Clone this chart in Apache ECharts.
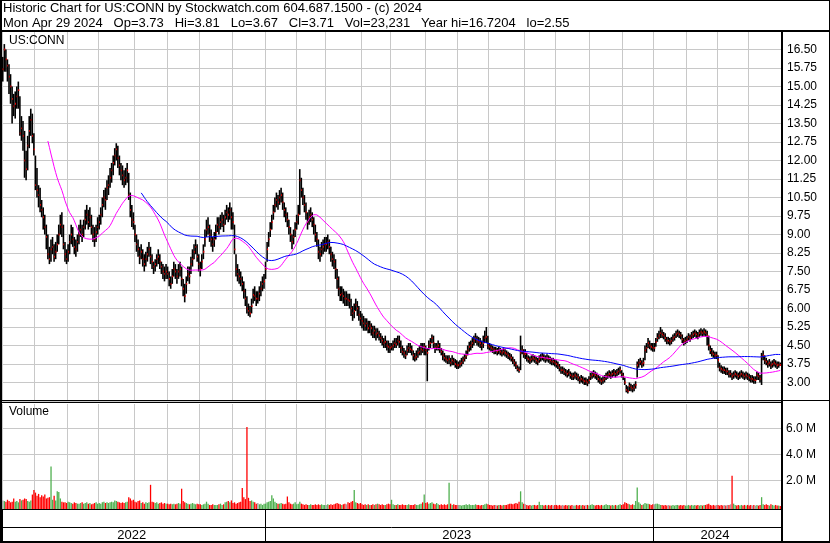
<!DOCTYPE html>
<html><head><meta charset="utf-8">
<script src="https://cdn.jsdelivr.net/npm/echarts@6/dist/echarts.min.js"></script>
<style>html,body{margin:0;padding:0;background:#fff}#c{width:830px;height:543px}</style>
</head><body><div id="c"></div>
<script>
// ---------- DATA ----------
const months = ['2022-05','2022-06','2022-07','2022-08','2022-09','2022-10','2022-11','2022-12',
  '2023-01','2023-02','2023-03','2023-04','2023-05','2023-06','2023-07','2023-08','2023-09','2023-10','2023-11','2023-12',
  '2024-01','2024-02','2024-03','2024-04'];
const monthDays = [21,21,20,23,21,21,21,21, 20,19,23,19,22,21,20,23,20,22,21,20, 21,20,20,21];
const volTicks = [2,4,6];

const cl = [
15.7,16.5,16.1,15.85,15.4,15.0,14.5,14.2,14.3,14.6,14.85,13.1,13.3,13.0,12.0,11.65,12.6,13.2,13.65,13.0,12.45,
11.0,10.8,10.6,10.2,10.0,9.7,9.3,8.9,8.2,8.0,8.4,8.5,8.1,8.3,8.6,9.0,9.4,9.3,8.6,8.2,8.0,
8.3,8.7,9.0,8.8,8.5,8.4,8.7,9.0,9.2,9.0,9.3,9.6,9.8,9.5,9.7,9.3,9.0,8.8,9.1,9.3,
9.5,9.8,10.2,10.5,10.4,10.9,11.0,11.3,11.6,11.9,12.2,12.45,12.1,11.8,11.6,11.4,11.2,11.3,11.6,10.6,10.0,9.6,9.5,
9.0,8.6,8.4,8.1,8.3,8.0,7.8,8.0,8.2,8.4,8.1,7.9,7.7,7.8,8.0,8.1,7.9,7.7,7.5,7.4,7.5,
7.4,7.2,7.0,7.3,7.6,7.5,7.3,7.5,7.6,7.2,6.8,6.5,7.0,7.4,7.3,7.8,8.0,8.3,8.5,8.1,7.8,
7.6,7.9,8.3,8.8,9.2,9.3,9.0,8.8,8.6,8.8,9.1,9.4,9.3,9.5,9.6,9.4,9.7,9.9,9.8,10.0,9.7,
9.5,8.4,7.6,7.4,7.3,7.2,7.0,6.7,6.4,6.0,5.9,5.8,6.1,6.55,6.5,6.4,6.4,6.6,6.8,7.0,7.1,
7.6,8.4,8.8,9.2,9.5,9.9,10.2,10.4,10.3,10.5,10.6,10.3,10.0,9.8,9.6,9.3,9.0,8.7,8.9,9.2,
9.5,9.8,11.2,10.8,10.5,10.2,9.9,9.5,9.7,9.8,9.6,9.4,9.0,8.8,8.3,8.2,8.4,8.5,8.6,
8.6,8.7,8.5,8.2,8.0,7.9,7.6,7.2,6.8,6.55,6.6,6.5,6.4,6.4,6.35,6.3,6.0,5.8,5.9,6.15,6.0,5.75,5.6,
5.5,5.4,5.3,5.4,5.2,5.3,5.2,5.0,5.1,4.95,5.0,4.9,4.8,4.7,4.6,4.65,4.5,4.45,4.4,
4.45,4.5,4.6,4.55,4.7,4.65,4.4,4.25,4.2,4.1,4.3,4.4,4.35,4.3,4.1,4.0,4.05,4.2,4.25,4.35,4.3,4.45,
4.3,4.2,4.5,4.6,4.8,4.6,4.4,4.45,4.5,4.35,4.25,4.1,4.0,3.95,3.9,3.95,3.8,3.9,3.85,3.75,3.7,
3.7,3.75,3.8,3.9,4.0,4.1,4.3,4.45,4.5,4.6,4.7,4.8,4.7,4.65,4.6,4.5,4.6,4.8,4.85,4.5,
4.45,4.4,4.35,4.3,4.3,4.25,4.3,4.25,4.2,4.25,4.2,4.15,4.1,4.05,4.0,3.9,3.8,3.7,3.55,3.5,4.2,4.3,4.15,
4.15,4.0,3.95,3.9,3.95,4.0,3.95,3.9,3.85,3.95,4.0,4.05,4.0,3.95,4.0,3.95,3.9,3.85,3.85,3.8,
3.75,3.7,3.6,3.5,3.5,3.45,3.4,3.35,3.4,3.3,3.25,3.25,3.3,3.25,3.2,3.1,3.15,3.1,3.05,3.05,3.0,3.1,
3.25,3.3,3.35,3.3,3.25,3.15,3.1,3.05,3.1,3.15,3.25,3.3,3.35,3.3,3.35,3.4,3.35,3.4,3.45,3.5,3.35,
3.25,3.0,2.7,2.65,2.85,2.8,2.75,2.8,2.9,3.7,3.8,3.85,3.75,3.8,4.3,4.4,4.6,4.5,4.45,4.4,
4.4,4.65,4.8,4.9,5.0,4.95,4.9,4.8,4.7,4.7,4.65,4.7,4.8,4.85,4.95,5.0,4.95,4.9,4.75,4.65,4.7,
4.75,4.85,4.8,4.9,4.95,5.0,4.95,4.9,5.0,5.05,5.0,5.05,5.0,4.9,4.5,4.3,4.2,4.15,4.1,4.1,
3.9,3.6,3.55,3.5,3.5,3.45,3.45,3.35,3.35,3.25,3.3,3.35,3.3,3.25,3.3,3.35,3.3,3.25,3.3,3.25,
3.2,3.15,3.15,3.1,3.1,3.3,3.25,3.15,4.05,4.1,3.9,3.85,3.75,3.8,3.7,3.75,3.8,3.75,3.7,3.72,3.71
];
const hi = [
16.2,16.72,16.5,16.1,15.9,15.5,15.0,14.7,14.8,15.0,15.2,14.6,13.8,13.6,13.2,12.4,13.0,13.8,14.1,13.9,13.1,
12.2,11.7,11.0,10.9,10.4,10.1,9.8,9.4,9.0,8.5,8.8,8.9,8.6,8.7,9.0,9.4,9.8,9.9,9.4,8.7,8.4,
8.6,9.0,9.4,9.3,8.9,8.8,9.0,9.4,9.6,9.4,9.6,10.0,10.2,10.0,10.1,9.8,9.4,9.3,9.4,9.7,
9.8,10.1,10.5,10.8,10.9,11.2,11.4,11.7,11.9,12.2,12.5,12.7,12.6,12.2,11.9,11.8,11.6,11.7,11.9,11.5,10.7,10.2,9.9,
9.4,9.0,8.8,8.5,8.6,8.4,8.2,8.3,8.5,8.7,8.5,8.2,7.9,8.0,8.2,8.4,8.2,7.9,7.8,7.7,7.8,
7.7,7.5,7.3,7.6,7.9,7.8,7.6,7.8,7.9,7.7,7.2,7.0,7.3,7.7,7.7,8.1,8.4,8.6,8.8,8.6,8.2,
7.9,8.2,8.6,9.2,9.6,9.7,9.4,9.2,8.9,9.1,9.4,9.7,9.7,9.8,9.9,9.8,10.0,10.2,10.1,10.3,10.1,
9.9,9.4,8.2,7.8,7.6,7.5,7.3,7.1,6.8,6.5,6.2,6.1,6.4,6.8,6.9,6.7,6.7,6.9,7.1,7.3,7.4,
7.9,8.7,9.1,9.5,9.8,10.2,10.5,10.7,10.6,10.8,10.9,10.7,10.3,10.1,9.9,9.6,9.3,9.0,9.2,9.5,
9.8,10.2,11.65,11.3,10.9,10.6,10.3,9.9,10.0,10.1,9.9,9.7,9.4,9.1,8.8,8.5,8.7,8.8,8.9,
8.9,9.0,8.8,8.5,8.3,8.2,8.0,7.6,7.3,6.9,6.9,6.8,6.7,6.7,6.6,6.6,6.4,6.1,6.2,6.4,6.3,6.1,5.9,
5.8,5.7,5.6,5.6,5.5,5.5,5.4,5.3,5.3,5.2,5.2,5.1,5.0,4.9,4.8,4.9,4.7,4.7,4.6,
4.6,4.7,4.8,4.8,4.9,4.9,4.7,4.5,4.4,4.3,4.5,4.6,4.6,4.5,4.3,4.2,4.3,4.4,4.5,4.6,4.6,4.6,
4.5,4.4,4.7,4.8,4.95,4.9,4.6,4.6,4.7,4.6,4.4,4.3,4.2,4.1,4.1,4.1,4.0,4.1,4.0,3.95,3.9,
3.85,3.9,4.0,4.05,4.15,4.3,4.5,4.65,4.7,4.8,4.9,5.0,4.9,4.85,4.8,4.7,4.9,5.1,5.25,4.9,
4.6,4.55,4.5,4.45,4.45,4.4,4.45,4.4,4.35,4.4,4.35,4.3,4.25,4.2,4.15,4.05,3.95,3.85,3.7,3.65,4.9,4.5,4.35,
4.35,4.2,4.1,4.05,4.1,4.15,4.1,4.05,4.0,4.1,4.15,4.2,4.15,4.1,4.15,4.1,4.05,4.0,4.0,3.95,
3.9,3.85,3.75,3.65,3.65,3.6,3.55,3.5,3.55,3.45,3.4,3.4,3.45,3.4,3.35,3.25,3.3,3.25,3.2,3.2,3.15,3.25,
3.4,3.45,3.5,3.45,3.4,3.3,3.25,3.2,3.25,3.3,3.4,3.45,3.5,3.45,3.5,3.55,3.5,3.55,3.6,3.65,3.5,
3.4,3.2,2.9,2.85,3.0,2.95,2.9,2.95,3.05,3.85,3.95,4.0,3.9,4.0,4.5,4.6,4.8,4.7,4.6,4.6,
4.6,4.8,5.0,5.1,5.25,5.15,5.05,5.0,4.85,4.85,4.8,4.85,4.95,5.0,5.1,5.15,5.1,5.05,4.95,4.8,4.85,
4.9,5.0,4.95,5.05,5.1,5.15,5.1,5.05,5.15,5.2,5.15,5.2,5.15,5.1,4.9,4.5,4.4,4.3,4.25,4.25,
4.1,3.8,3.7,3.65,3.65,3.6,3.6,3.5,3.5,3.4,3.45,3.5,3.45,3.4,3.45,3.5,3.45,3.4,3.45,3.4,
3.35,3.3,3.3,3.25,3.25,3.45,3.4,3.3,4.2,4.3,4.1,4.0,3.9,3.95,3.85,3.9,3.95,3.9,3.85,3.85,3.81
];
const lo = [
15.2,15.6,15.6,15.2,14.7,14.3,13.5,13.8,13.7,14.1,14.1,13.0,12.8,12.4,11.3,11.2,11.6,12.5,13.0,12.7,12.2,
10.8,10.5,10.1,9.9,9.7,9.2,9.0,8.4,8.0,7.8,7.9,8.2,7.9,8.0,8.3,8.6,9.0,8.9,8.4,7.9,7.8,
7.9,8.2,8.6,8.5,8.2,8.1,8.3,8.6,8.9,8.7,8.9,9.2,9.4,9.2,9.3,9.0,8.7,8.5,8.7,9.0,
9.2,9.4,9.7,10.1,10.0,10.4,10.6,10.9,11.1,11.4,11.8,12.0,11.7,11.4,11.2,11.0,10.9,11.0,11.1,10.4,9.7,9.3,9.2,
8.7,8.3,8.1,7.8,8.0,7.7,7.5,7.7,7.9,8.1,7.8,7.6,7.4,7.5,7.7,7.8,7.6,7.4,7.2,7.1,7.2,
7.2,6.9,6.8,7.0,7.3,7.2,7.0,7.2,7.3,6.9,6.5,6.25,6.6,7.1,7.0,7.4,7.7,8.0,8.2,7.9,7.5,
7.3,7.6,8.0,8.5,8.9,9.0,8.7,8.5,8.3,8.5,8.8,9.1,9.0,9.2,9.3,9.1,9.4,9.6,9.5,9.6,9.2,
9.2,8.2,7.3,7.1,7.0,6.9,6.7,6.4,6.1,5.8,5.7,5.65,5.8,6.2,6.3,6.1,6.2,6.3,6.5,6.7,6.8,
7.2,7.9,8.5,8.9,9.2,9.6,9.9,10.1,10.0,10.2,10.3,10.0,9.7,9.5,9.3,9.0,8.7,8.4,8.6,8.9,
9.2,9.4,9.8,10.5,10.2,9.9,9.6,9.2,9.4,9.5,9.3,9.0,8.7,8.5,8.0,7.9,8.1,8.2,8.3,
8.3,8.4,8.2,7.9,7.7,7.6,7.2,6.8,6.5,6.3,6.3,6.2,6.1,6.1,6.1,6.0,5.7,5.5,5.6,5.9,5.7,5.5,5.3,
5.2,5.1,5.1,5.1,5.0,5.0,4.9,4.8,4.8,4.7,4.8,4.7,4.6,4.5,4.4,4.4,4.3,4.2,4.2,
4.3,4.3,4.4,4.4,4.5,4.4,4.2,4.1,4.0,3.95,4.1,4.2,4.2,4.1,3.9,3.85,3.9,4.0,4.1,4.1,4.2,4.1,
4.1,3.05,4.3,4.4,4.6,4.4,4.2,4.3,4.3,4.2,4.1,3.9,3.85,3.8,3.75,3.75,3.65,3.7,3.7,3.6,3.55,
3.55,3.6,3.65,3.75,3.85,3.95,4.1,4.25,4.3,4.4,4.5,4.6,4.5,4.45,4.4,4.3,4.4,4.6,4.6,4.35,
4.3,4.25,4.2,4.15,4.15,4.1,4.15,4.1,4.05,4.1,4.05,4.0,3.95,3.9,3.85,3.75,3.65,3.55,3.45,3.4,3.5,4.15,4.0,
3.95,3.85,3.8,3.75,3.8,3.85,3.8,3.75,3.7,3.8,3.85,3.9,3.85,3.8,3.85,3.8,3.75,3.7,3.7,3.65,
3.6,3.55,3.45,3.35,3.35,3.3,3.25,3.2,3.25,3.15,3.1,3.1,3.15,3.1,3.05,2.95,3.0,2.95,2.9,2.9,2.85,2.95,
3.1,3.15,3.2,3.15,3.1,3.0,2.95,2.9,2.95,3.0,3.1,3.15,3.2,3.15,3.2,3.25,3.2,3.25,3.3,3.35,3.2,
3.1,2.9,2.6,2.55,2.65,2.65,2.6,2.65,2.75,3.2,3.6,3.7,3.6,3.65,3.9,4.2,4.4,4.35,4.3,4.25,
4.25,4.45,4.65,4.75,4.8,4.8,4.75,4.65,4.55,4.55,4.5,4.55,4.65,4.7,4.8,4.85,4.8,4.75,4.6,4.5,4.55,
4.6,4.7,4.65,4.75,4.8,4.85,4.8,4.75,4.85,4.9,4.85,4.9,4.85,4.5,4.3,4.15,4.05,4.0,3.95,3.95,
3.6,3.45,3.4,3.35,3.35,3.3,3.3,3.2,3.2,3.1,3.15,3.2,3.15,3.1,3.15,3.2,3.15,3.1,3.15,3.1,
3.05,3.0,3.0,2.95,2.95,3.1,3.1,3.0,2.9,3.9,3.75,3.7,3.6,3.65,3.55,3.6,3.65,3.6,3.55,3.6,3.67
];
// volume in millions of shares
const vol = [
0.45,0.4,0.35,0.5,0.4,0.3,0.35,0.6,0.35,0.4,0.3,0.55,0.45,0.5,0.6,0.55,0.4,0.35,0.45,0.9,1.25,
1.05,0.8,0.95,0.7,0.85,0.75,0.9,0.6,0.65,0.7,3.05,0.5,0.8,0.45,1.15,1.1,0.6,0.35,0.3,0.3,0.25,
0.35,0.3,0.25,0.2,0.3,0.25,0.2,0.2,0.25,0.3,0.2,0.25,0.3,0.2,0.25,0.15,0.2,0.25,0.3,0.2,
0.25,0.2,0.3,0.35,0.25,0.3,0.25,0.3,0.35,0.3,0.45,0.4,0.35,0.3,0.25,0.3,0.25,0.3,0.35,0.7,0.6,0.45,0.5,
0.35,0.3,0.4,0.45,0.25,0.3,0.2,0.3,0.25,0.3,1.65,0.35,0.3,0.25,0.3,0.2,0.25,0.3,0.2,0.25,0.2,
0.2,0.15,0.2,0.15,0.2,0.15,0.2,0.25,0.2,1.35,0.4,0.3,0.25,0.2,0.15,0.2,0.25,0.2,0.15,0.2,0.15,
0.15,0.1,0.15,0.2,0.35,0.2,0.1,0.1,0.15,0.1,0.1,0.1,0.15,0.2,0.1,0.15,0.3,0.35,0.4,0.3,0.45,
0.25,0.3,0.2,0.25,0.3,0.35,1.4,0.7,0.55,6.1,0.65,0.4,0.45,0.35,0.3,0.2,0.25,0.15,0.2,0.1,0.2,
0.2,0.3,0.35,0.4,0.85,0.6,0.35,0.25,0.2,0.2,0.25,0.2,0.15,0.2,0.75,0.3,0.2,0.15,0.2,0.3,
0.15,0.2,0.35,0.2,0.15,0.1,0.15,0.1,0.1,0.15,0.1,0.1,0.15,0.1,0.15,0.1,0.15,0.1,0.1,
0.1,0.15,0.1,0.15,0.1,0.15,0.2,0.25,0.2,0.15,0.1,0.15,0.2,0.15,0.3,0.25,0.35,0.4,1.25,0.3,0.25,0.2,0.25,
0.15,0.1,0.15,0.1,0.15,0.1,0.1,0.15,0.1,0.15,0.2,0.15,0.1,0.15,0.1,0.1,0.15,0.2,0.15,
0.5,0.15,0.1,0.1,0.15,0.1,0.1,0.15,0.1,0.1,0.1,0.15,0.1,0.1,0.1,0.15,0.1,0.1,0.15,0.2,0.3,0.9,
0.25,0.3,0.2,0.25,0.3,0.2,0.15,0.25,0.15,0.1,0.15,0.1,0.15,0.1,0.15,1.8,0.2,0.1,0.15,0.1,0.1,
0.1,0.1,0.05,0.1,0.1,0.15,0.1,0.15,0.1,0.1,0.1,0.15,0.1,0.1,0.05,0.1,0.1,0.15,0.2,0.15,
0.1,0.1,0.05,0.1,0.1,0.05,0.1,0.1,0.05,0.1,0.1,0.1,0.15,0.2,0.2,0.15,0.2,0.25,0.2,0.35,1.15,0.3,0.2,
0.15,0.1,0.05,0.1,0.05,0.1,0.1,0.05,0.1,0.35,0.1,0.1,0.05,0.1,0.05,0.1,0.05,0.1,0.05,0.1,
0.1,0.05,0.1,0.05,0.1,0.05,0.1,0.05,0.1,0.05,0.1,0.05,0.05,0.1,0.05,0.1,0.05,0.1,0.05,0.1,0.1,0.05,
0.1,0.15,0.1,0.05,0.1,0.1,0.05,0.1,0.05,0.1,0.15,0.1,0.1,0.05,0.1,0.05,0.1,0.05,0.1,0.15,0.1,
0.15,0.3,0.25,0.2,0.15,0.1,0.15,0.1,0.4,1.45,0.3,0.2,0.1,0.15,0.25,0.2,0.2,0.15,0.1,0.15,
0.15,0.2,0.2,0.15,0.1,0.1,0.05,0.1,0.05,0.1,0.05,0.05,0.1,0.05,0.1,0.1,0.05,0.1,0.05,0.1,0.05,
0.05,0.1,0.05,0.1,0.05,0.1,0.05,0.1,0.05,0.1,0.05,0.1,0.1,0.15,0.2,0.1,0.05,0.1,0.05,0.1,
0.1,0.05,0.1,0.05,0.1,0.05,0.1,0.1,0.15,2.35,0.2,0.1,0.05,0.1,0.05,0.1,0.05,0.1,0.05,0.1,
0.05,0.1,0.05,0.1,0.05,0.1,0.05,0.1,0.7,0.15,0.1,0.15,0.1,0.05,0.15,0.1,0.05,0.1,0.05,0.05,0.023
];

// ---------- BUILD ----------
const FONT = '"Liberation Sans", Arial, sans-serif';
const cats = [], monthStart = new Set(), yearStart = new Set(), yearMid = {};
let n = 0;
const yearRange = {};
months.forEach((m, k) => {
  monthStart.add(n);
  const y = m.slice(0, 4);
  if (!(y in yearRange)) { yearRange[y] = [n, n]; yearStart.add(n); }
  for (let d = 1; d <= monthDays[k]; d++) { cats.push(m + '-' + d); n++; }
  yearRange[y][1] = n - 1;
});
Object.keys(yearRange).forEach(y => { yearMid[Math.floor((yearRange[y][0] + yearRange[y][1]) / 2) - 1] = y; });

function sma(arr, len) {
  return arr.map((v, i) => {
    if (i < len - 1) return null;
    let s = 0; for (let j = i - len + 1; j <= i; j++) s += arr[j];
    return +(s / len).toFixed(4);
  });
}
const ma30 = sma(cl, 30), ma90 = sma(cl, 90);
const volColor = cl.map((c, i) => i === 0 ? '#a0a0a0' : (c > cl[i-1] ? '#4fb04f' : (c < cl[i-1] ? '#ff0000' : '#a0a0a0')));

const GRID_L = 2, GRID_W = 779;
const gridCol = '#c8c8c8';
function catAxis(gi, splitFn, splitColor) {
  return {
    type: 'category', gridIndex: gi, data: cats, boundaryGap: true,
    axisLine: { show: false }, axisTick: { show: false }, axisLabel: { show: false },
    splitLine: { show: true, interval: splitFn, lineStyle: { color: splitColor, width: 1 } }
  };
}

const chart = echarts.init(document.getElementById('c'), null, { renderer: 'canvas', width: 830, height: 543 });
const K = '#000';
const R = (x, y, w, h) => ({ type: 'rect', shape: { x, y, width: w, height: h }, style: { fill: K }, z: 100, silent: true });
const T = (x, y, text, size) => ({ type: 'text', x, y, z: 101, style: { text, fill: '#000', font: size + 'px ' + FONT, verticalAlign: 'top' } });

const graphic = [
  R(0, 0, 830, 1), R(0, 0, 2, 543), R(829, 0, 1, 543), R(0, 541, 830, 2),
  R(0, 30, 830, 2), R(781, 30, 2, 513),
  R(0, 400, 781, 1), R(0, 402, 781, 1), R(781, 400, 49, 1),
  R(0, 509, 781, 1),
  T(3, 2, 'Historic Chart for US:CONN by Stockwatch.com 604.687.1500 - (c) 2024', 13),
  T(3, 17, 'Mon Apr 29 2024   Op=3.73   Hi=3.81   Lo=3.67   Cl=3.71   Vol=23,231   Year hi=16.7204   lo=2.55', 13),
  T(9, 35, 'US:CONN', 12),
  T(9, 406, 'Volume', 12)
];
if (cl.length !== n || hi.length !== n || lo.length !== n || vol.length !== n) {
  graphic.push({ type: 'text', x: 300, y: 200, z: 200, style: { text: 'LEN ' + n + ' ' + cl.length + ' ' + hi.length + ' ' + lo.length + ' ' + vol.length, fill: 'red', font: 'bold 20px sans-serif' } });
}

const option = {
  animation: false,
  backgroundColor: '#fff',
  grid: [
    { left: GRID_L, width: GRID_W, top: 31, height: 370 },
    { left: GRID_L, width: GRID_W, top: 404, height: 105.5 },
    { left: GRID_L, width: GRID_W, top: 510, height: 17 }
  ],
  xAxis: [
    catAxis(0, i => monthStart.has(i), gridCol),
    catAxis(1, i => monthStart.has(i), gridCol),
    {
      type: 'category', gridIndex: 2, data: cats, boundaryGap: true,
      axisLine: { show: true, lineStyle: { color: '#000', width: 1 } },
      axisTick: { show: true, interval: i => yearStart.has(i), length: 15, lineStyle: { color: '#000', width: 1 } },
      splitLine: { show: true, interval: i => yearStart.has(i), lineStyle: { color: '#000', width: 1 } },
      axisLabel: { show: true, interval: i => (i in yearMid), formatter: (v, i) => yearMid[i] || '', margin: 2,
        color: '#000', fontSize: 13, fontFamily: FONT }
    }
  ],
  yAxis: [
    {
      type: 'value', gridIndex: 0, position: 'right', min: 2.25, max: 17.25, interval: 0.75,
      axisLine: { show: false }, axisTick: { show: false },
      axisLabel: { margin: 6, color: '#000', fontSize: 12, fontFamily: FONT,
        formatter: v => (v > 2.9 && v < 16.6) ? v.toFixed(2) : '' },
      splitLine: { show: true, lineStyle: { color: gridCol, width: 1 } }
    },
    {
      type: 'value', gridIndex: 1, position: 'right', min: -0.25, max: 7.87,
      axisLine: { show: false },
      axisTick: { show: false, customValues: volTicks },
      axisLabel: { margin: 5, color: '#000', fontSize: 12, fontFamily: FONT, customValues: volTicks,
        formatter: v => v.toFixed(1) + ' M' },
      splitLine: { show: true, lineStyle: { color: gridCol, width: 1 } }
    },
    { type: 'value', gridIndex: 2, show: false, min: 0, max: 1 }
  ],
  graphic: graphic,
  series: [
    {
      type: 'custom', xAxisIndex: 0, yAxisIndex: 0, z: 2,
      data: cats.map((c, i) => [i, hi[i], lo[i], cl[i]]),
      encode: { x: 0, y: [1, 2, 3] },
      renderItem: (params, api) => {
        const i = api.value(0);
        const pH = api.coord([i, api.value(1)]);
        const pL = api.coord([i, api.value(2)]);
        const pC = api.coord([i, api.value(3)]);
        return { type: 'group', children: [
          { type: 'rect', shape: { x: pH[0] - 0.8, y: pH[1], width: 1.6, height: Math.max(1, pL[1] - pH[1]) }, style: { fill: '#000' } },
          { type: 'rect', shape: { x: pC[0] - 0.1, y: pC[1] - 0.9, width: 1.1, height: 1.8 }, style: { fill: '#ff0000' } }
        ] };
      }
    },
    {
      type: 'line', xAxisIndex: 0, yAxisIndex: 0, data: ma30, showSymbol: false, symbol: 'none', z: 3,
      lineStyle: { color: '#ff00ff', width: 1 }, connectNulls: false
    },
    {
      type: 'line', xAxisIndex: 0, yAxisIndex: 0, data: ma90, showSymbol: false, symbol: 'none', z: 3,
      lineStyle: { color: '#0000ff', width: 1 }, connectNulls: false
    },
    {
      type: 'custom', xAxisIndex: 1, yAxisIndex: 1, z: 2,
      data: vol.map((v, i) => [i, v]),
      encode: { x: 0, y: 1 },
      renderItem: (params, api) => {
        const i = api.value(0);
        const top = api.coord([i, api.value(1)]);
        const base = api.coord([i, -0.25]);
        return { type: 'rect', shape: { x: top[0] - 0.6, y: top[1], width: 1.3, height: base[1] - top[1] },
          style: { fill: volColor[i] } };
      }
    }
  ]
};
chart.setOption(option);
</script>
</body></html>
